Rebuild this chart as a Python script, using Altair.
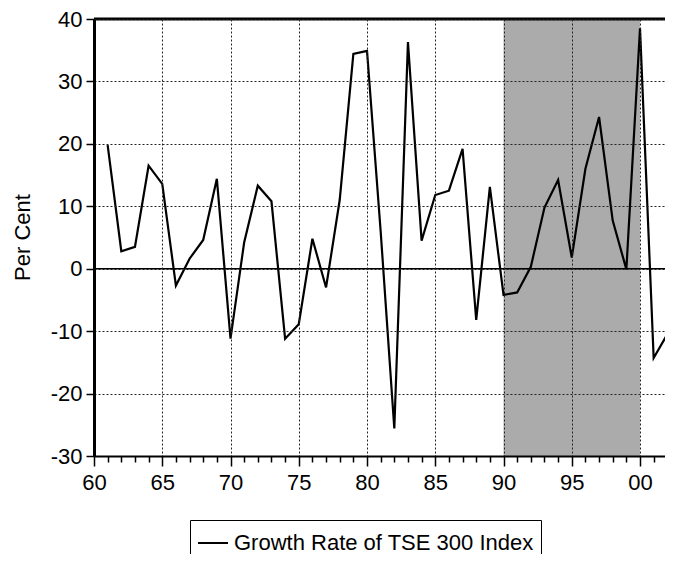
import altair as alt
import pandas as pd

years = list(range(1961, 2004))
growth = [19.8, 2.8, 3.5, 16.5, 13.6, -2.7, 1.6, 4.6, 14.4, -11.2,
          4.2, 13.3, 10.8, -11.2, -8.9, 4.8, -3.0, 11.0, 34.4, 34.9,
          6.0, -25.6, 36.3, 4.5, 11.8, 12.5, 19.2, -8.2, 13.1, -4.2,
          -3.8, 0.3, 9.8, 14.2, 1.8, 16.0, 24.3, 7.7, -0.1, 38.5,
          -14.3, -10.5, -3.0]
series_name = "Growth Rate of TSE 300 Index"
shade_start = [1990]
shade_end = [2000]
y_ticks = [-30, -20, -10, 0, 10, 20, 30, 40]
x_ticks = list(range(1960, 2003))

FONT = "Liberation Sans"

df = pd.DataFrame({"year": years, "growth": growth, "series": series_name})
shade_df = pd.DataFrame({"start": shade_start, "end": shade_end})
zero_df = pd.DataFrame({"v": [0]})
top_df = pd.DataFrame({"v": [40]})

xscale = alt.Scale(domain=[1960, 2001.83], nice=False, zero=False)
yscale = alt.Scale(domain=[-30, 40], nice=False, zero=False)

xaxis = alt.Axis(
    title=None,
    values=x_ticks,
    labelExpr="datum.value % 5 === 0 ? ((datum.value % 100 < 10 ? '0' : '') + (datum.value % 100)) : ''",
    labelFont=FONT, labelFontSize=22, labelColor="black", labelPadding=6,
    labelOverlap=False, labelFlush=False,
    tickColor="black", tickWidth=1.5,
    tickSize={"condition": {"test": "datum.value % 5 === 0", "value": 10}, "value": 6},
    grid=True, gridColor="#222222", gridDash=[2, 2], gridWidth=1,
    gridOpacity={"condition": {"test": "datum.value % 5 === 0 && datum.value > 1960", "value": 1}, "value": 0},
    domainColor="black", domainWidth=2, zindex=1,
)
yaxis = alt.Axis(
    title="Per Cent", titleFont=FONT, titleFontSize=22, titleFontWeight="normal",
    titleColor="black", titleAngle=270, titleX=-72, titleY=218,
    titleAlign="center", titleBaseline="middle",
    values=y_ticks, labelExpr="'' + datum.value",
    labelFont=FONT, labelFontSize=22, labelColor="black",
    labelPadding=4, tickSize=8, tickColor="black", tickWidth=1.5,
    grid=True, gridColor="#222222", gridDash=[2, 2], gridWidth=1,
    domainColor="black", domainWidth=3, zindex=1,
)

shade = alt.Chart(shade_df).mark_rect(color="#ababab").encode(
    x=alt.X("start:Q", scale=xscale, axis=xaxis),
    x2="end:Q",
)
zero = alt.Chart(zero_df).mark_rule(color="black", strokeWidth=1.5).encode(
    y=alt.Y("v:Q", scale=yscale, axis=yaxis)
)
top = alt.Chart(top_df).mark_rule(color="black", strokeWidth=3).encode(
    y=alt.Y("v:Q", scale=yscale, axis=yaxis)
)
line = alt.Chart(df).mark_line(strokeWidth=2.2, clip=True).encode(
    x=alt.X("year:Q", scale=xscale, axis=xaxis),
    y=alt.Y("growth:Q", scale=yscale, axis=yaxis),
    color=alt.Color(
        "series:N",
        scale=alt.Scale(range=["black"]),
        legend=alt.Legend(
            title=None, orient="none", legendX=96, legendY=501,
            strokeColor="black", fillColor="white", padding=7,
            symbolType="stroke", symbolSize=900, symbolStrokeWidth=2,
            labelFont=FONT, labelFontSize=22, labelColor="black",
            labelOffset=5, labelLimit=0,
        ),
    ),
)

chart = alt.layer(shade, zero, top, line).properties(
    width=571, height=437,
    autosize=alt.AutoSizeParams(type="none"),
    padding={"left": 86, "top": 11, "right": 0, "bottom": 98},
).configure_view(stroke=None).configure(background="white")

chart.save("out.html", embed_options={"renderer": "svg", "actions": False})
